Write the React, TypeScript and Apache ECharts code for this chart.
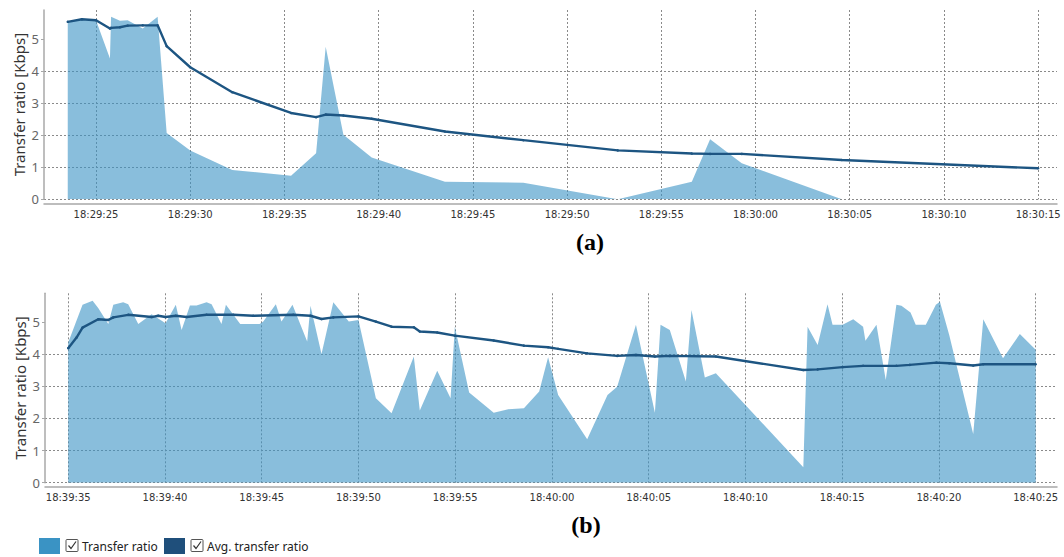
import React, { useEffect, useRef } from "react";
import * as echarts from "echarts";

// ---- Panel (a) ----
const ratioTimesA = [
  "18:29:23.50", "18:29:24.25", "18:29:25.00", "18:29:25.74", "18:29:25.80", "18:29:26.27",
  "18:29:26.68", "18:29:27.48", "18:29:28.27", "18:29:28.75", "18:29:30.00", "18:29:32.23",
  "18:29:35.35", "18:29:36.68", "18:29:37.19", "18:29:38.13", "18:29:39.63", "18:29:43.52",
  "18:29:47.68", "18:29:52.69", "18:29:56.62", "18:29:57.59", "18:29:59.27", "18:30:04.58",
];
const ratioA = [
  5.55, 5.62, 5.6, 4.4, 5.71, 5.58,
  5.6, 5.34, 5.71, 2.07, 1.53, 0.92,
  0.74, 1.44, 4.77, 2.02, 1.31, 0.55,
  0.52, 0, 0.55, 1.88, 1.13, 0,
];
const avgTimesA = [
  "18:29:23.50", "18:29:24.25", "18:29:25.00", "18:29:25.74", "18:29:25.80", "18:29:26.27",
  "18:29:26.68", "18:29:27.48", "18:29:28.27", "18:29:28.75", "18:29:30.00", "18:29:32.23",
  "18:29:35.35", "18:29:36.68", "18:29:37.19", "18:29:38.13", "18:29:39.63", "18:29:43.52",
  "18:29:47.68", "18:29:52.69", "18:29:56.62", "18:29:57.59", "18:29:59.27", "18:30:04.58",
  "18:30:15.00",
];
const avgA = [
  5.55, 5.63, 5.6, 5.34, 5.36, 5.38,
  5.43, 5.44, 5.44, 4.79, 4.13, 3.35,
  2.7, 2.57, 2.65, 2.62, 2.52, 2.12,
  1.85, 1.53, 1.43, 1.42, 1.42, 1.23,
  0.97,
];
const rangeA = ["18:29:22.24", "18:30:16.00"];

// ---- Panel (b) ----
const ratioTimesB = [
  "18:39:35.00", "18:39:35.74", "18:39:36.26", "18:39:36.55", "18:39:37.07", "18:39:37.33",
  "18:39:37.84", "18:39:38.10", "18:39:38.62", "18:39:39.31", "18:39:40.03", "18:39:40.56",
  "18:39:40.86", "18:39:41.29", "18:39:41.63", "18:39:42.15", "18:39:42.41", "18:39:42.92",
  "18:39:43.15", "18:39:43.89", "18:39:44.89", "18:39:45.08", "18:39:45.73", "18:39:46.02",
  "18:39:46.59", "18:39:47.35", "18:39:47.52", "18:39:48.09", "18:39:48.70", "18:39:49.50",
  "18:39:50.00", "18:39:50.90", "18:39:51.71", "18:39:52.86", "18:39:53.17", "18:39:54.07",
  "18:39:54.76", "18:39:54.98", "18:39:55.72", "18:39:56.99", "18:39:57.74", "18:39:58.55",
  "18:39:59.34", "18:39:59.80", "18:40:00.32", "18:40:01.82", "18:40:02.87", "18:40:03.37",
  "18:40:04.34", "18:40:05.32", "18:40:05.61", "18:40:06.09", "18:40:06.92", "18:40:07.21",
  "18:40:07.90", "18:40:08.47", "18:40:12.99", "18:40:13.21", "18:40:13.73", "18:40:14.24",
  "18:40:14.50", "18:40:15.02", "18:40:15.57", "18:40:16.08", "18:40:16.20", "18:40:16.77",
  "18:40:17.25", "18:40:17.80", "18:40:18.06", "18:40:18.53", "18:40:18.80", "18:40:19.32",
  "18:40:19.84", "18:40:20.05", "18:40:20.53", "18:40:21.77", "18:40:22.29", "18:40:23.31",
  "18:40:24.18", "18:40:25.00",
];
const ratioB = [
  4.37, 5.54, 5.67, 5.44, 4.94, 5.54,
  5.62, 5.56, 4.94, 5.25, 4.97, 5.54,
  4.76, 5.52, 5.52, 5.62, 5.56, 4.94,
  5.54, 4.94, 4.94, 5.02, 5.56, 5.02,
  5.54, 4.4, 5.51, 4.01, 5.62, 5.02,
  5.07, 2.63, 2.16, 3.93, 2.25, 3.49,
  2.63, 4.86, 2.81, 2.18, 2.29, 2.32,
  2.84, 3.91, 2.73, 1.35, 2.73, 2.99,
  4.92, 2.18, 4.92, 4.76, 3.15, 5.38,
  3.28, 3.41, 0.48, 4.86, 4.29, 5.56,
  4.92, 4.92, 5.09, 4.86, 4.42, 4.92,
  3.2, 5.54, 5.51, 5.3, 4.92, 4.92,
  5.54, 5.64, 4.6, 1.52, 5.09, 3.88,
  4.63, 4.14,
];
const avgTimesB = [
  "18:39:35.00", "18:39:35.43", "18:39:35.74", "18:39:36.55", "18:39:37.07", "18:39:37.33",
  "18:39:38.10", "18:39:39.31", "18:39:39.65", "18:39:40.03", "18:39:40.56", "18:39:41.12",
  "18:39:42.15", "18:39:43.53", "18:39:44.56", "18:39:46.63", "18:39:47.52", "18:39:48.09",
  "18:39:48.70", "18:39:50.00", "18:39:50.90", "18:39:51.71", "18:39:52.86", "18:39:53.17",
  "18:39:54.07", "18:39:54.98", "18:39:56.99", "18:39:58.55", "18:39:59.80", "18:40:00.32",
  "18:40:01.82", "18:40:03.37", "18:40:04.34", "18:40:05.32", "18:40:06.09", "18:40:08.47",
  "18:40:12.99", "18:40:13.73", "18:40:15.02", "18:40:16.08", "18:40:17.80", "18:40:18.49",
  "18:40:19.87", "18:40:20.53", "18:40:21.77", "18:40:22.29", "18:40:25.00",
];
const avgB = [
  4.19, 4.52, 4.83, 5.09, 5.07, 5.15,
  5.23, 5.16, 5.2, 5.16, 5.2, 5.16,
  5.23, 5.23, 5.2, 5.23, 5.2, 5.1,
  5.15, 5.18, 5.02, 4.86, 4.84, 4.71,
  4.68, 4.58, 4.43, 4.27, 4.22, 4.17,
  4.03, 3.95, 3.98, 3.93, 3.95, 3.93,
  3.51, 3.53, 3.6, 3.64, 3.64, 3.67,
  3.74, 3.72, 3.65, 3.69, 3.69,
];
const rangeB = ["18:39:33.80", "18:40:26.10"];

const yTicks = [0, 1, 2, 3, 4, 5];
const yMaxA = 5.92;
const yMaxB = 5.9;
const yTitle = "Transfer ratio [Kbps]";
const seriesNames = ["Transfer ratio", "Avg. transfer ratio"];
const panelCaptions = ["(a)", "(b)"];

const AREA_COLOR = "#3a93c4";
const LINE_COLOR = "#1d5582";
const GRID_LINE = "#8a8a8a";

const toSec = (s: string) => {
  const [h, m, sec] = s.split(":");
  return Number(h) * 3600 + Number(m) * 60 + Number(sec);
};
const pad = (n: number) => String(n).padStart(2, "0");
const fmtTime = (v: number) => {
  const t = Math.round(v);
  return `${pad(Math.floor(t / 3600))}:${pad(Math.floor((t % 3600) / 60))}:${pad(t % 60)}`;
};
const zip = (ts: string[], vs: number[]) =>
  ts.slice(0, Math.min(ts.length, vs.length)).map((t, i) => [toSec(t), vs[i]]);

function xAxisFor(gridIndex: number, range: string[]) {
  return {
    type: "value",
    gridIndex,
    min: toSec(range[0]),
    max: toSec(range[1]),
    splitNumber: 10,
    offset: 4,
    axisLine: { show: true, onZero: false, lineStyle: { color: "#a8a8a8", width: 1.5 } },
    axisTick: { show: false },
    axisLabel: {
      formatter: fmtTime,
      showMinLabel: false,
      showMaxLabel: false,
      margin: 6,
      color: "#333",
      fontFamily: "DejaVu Sans",
      fontSize: 10,
    },
    splitLine: {
      show: true,
      showMinLine: false,
      showMaxLine: false,
      lineStyle: { color: GRID_LINE, type: [2, 2], width: 1 },
    },
  };
}

function yAxisFor(gridIndex: number, max: number) {
  return {
    type: "value",
    gridIndex,
    min: 0,
    max,
    interval: 1,
    name: yTitle,
    nameLocation: "middle",
    nameGap: 18,
    nameMoveOverlap: false,
    nameTextStyle: { color: "#333", fontFamily: "Noto Sans", fontSize: 15 },
    axisLine: { show: true, lineStyle: { color: "#a8a8a8", width: 1.5 } },
    axisTick: { show: true, length: 3, customValues: yTicks, lineStyle: { color: "#a8a8a8" } },
    axisLabel: {
      showMaxLabel: false,
      margin: 5,
      color: "#666",
      fontFamily: "Noto Sans",
      fontSize: 13,
    },
    splitLine: {
      show: true,
      showMaxLine: false,
      lineStyle: { color: GRID_LINE, type: [2, 2], width: 1 },
    },
  };
}

function areaSeries(idx: number, data: number[][]) {
  return {
    name: seriesNames[0],
    type: "line",
    xAxisIndex: idx,
    yAxisIndex: idx,
    data,
    symbol: "none",
    lineStyle: { width: 0 },
    areaStyle: { color: AREA_COLOR, opacity: 0.6 },
    z: 2,
  };
}

function avgSeries(idx: number, data: number[][]) {
  return {
    name: seriesNames[1],
    type: "line",
    xAxisIndex: idx,
    yAxisIndex: idx,
    data,
    symbol: "circle",
    symbolSize: 2.5,
    showSymbol: true,
    itemStyle: { color: LINE_COLOR },
    lineStyle: { color: LINE_COLOR, width: 2.4 },
    z: 3,
  };
}

function legendItem(x: number, color: string, label: string) {
  return [
    { type: "rect", shape: { x, y: 538, width: 21, height: 16 }, style: { fill: color } },
    {
      type: "rect",
      shape: { x: x + 27, y: 539.5, width: 12, height: 12, r: 1 },
      style: { fill: "#fff", stroke: "#555", lineWidth: 1 },
    },
    {
      type: "polyline",
      shape: { points: [[x + 29.5, 545.5], [x + 32, 548.5], [x + 37, 541.5]] },
      style: { stroke: "#333", lineWidth: 1.2, fill: null },
    },
    {
      type: "text",
      x: x + 43,
      y: 546,
      style: {
        text: label,
        fill: "#222",
        font: '12px "Noto Sans"',
        verticalAlign: "middle",
      },
    },
  ];
}

export default function App() {
  const ref = useRef<HTMLDivElement>(null);

  useEffect(() => {
    if (!ref.current) return;
    const chart = echarts.init(ref.current, undefined, { renderer: "svg" });
    chart.setOption({
      animation: false,
      backgroundColor: "#fff",
      grid: [
        { left: 44, top: 10, width: 1013, height: 189.3, outerBoundsMode: "none", containLabel: false },
        { left: 45, top: 293.3, width: 1012, height: 189.4, outerBoundsMode: "none", containLabel: false },
      ],
      xAxis: [xAxisFor(0, rangeA), xAxisFor(1, rangeB)],
      yAxis: [yAxisFor(0, yMaxA), yAxisFor(1, yMaxB)],
      series: [
        areaSeries(0, zip(ratioTimesA, ratioA)),
        avgSeries(0, zip(avgTimesA, avgA)),
        areaSeries(1, zip(ratioTimesB, ratioB)),
        avgSeries(1, zip(avgTimesB, avgB)),
      ],
      graphic: [
        {
          type: "text",
          x: 590,
          y: 242,
          style: {
            text: panelCaptions[0],
            fill: "#000",
            font: 'bold 24px "Liberation Serif"',
            align: "center",
            verticalAlign: "middle",
          },
        },
        {
          type: "text",
          x: 586,
          y: 525,
          style: {
            text: panelCaptions[1],
            fill: "#000",
            font: 'bold 24px "Liberation Serif"',
            align: "center",
            verticalAlign: "middle",
          },
        },
        ...legendItem(39, AREA_COLOR, seriesNames[0]),
        ...legendItem(164, "#1f4f7b", seriesNames[1]),
      ],
    });
    return () => chart.dispose();
  }, []);

  return (
    <div
      ref={ref}
      style={{ position: "fixed", left: 0, top: 0, width: 1064, height: 557 }}
    />
  );
}
